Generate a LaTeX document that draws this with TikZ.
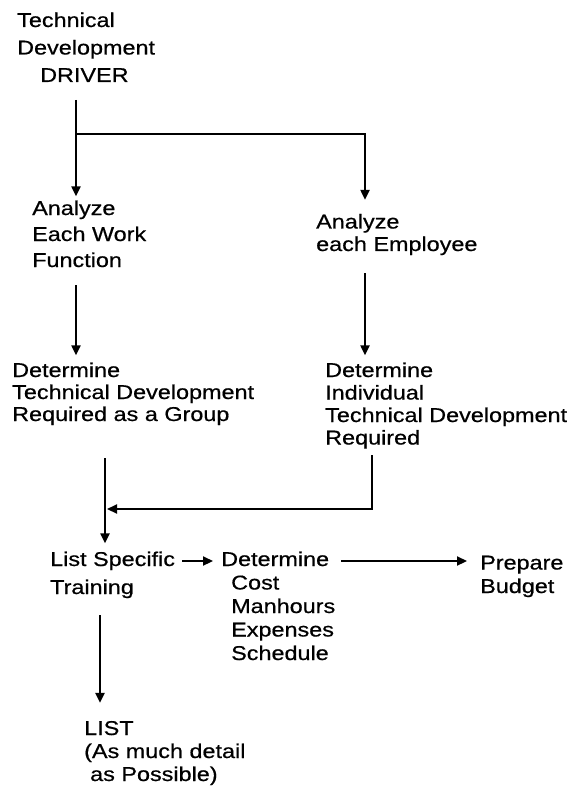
\documentclass[tikz,border=0pt]{standalone}
\usepackage{fontspec}
\setmainfont{Liberation Sans}[FakeStretch=1.17,FakeBold=0.6]
\usetikzlibrary{positioning,calc,arrows.meta}

\begin{document}
\begin{tikzpicture}
  [
    x=1pt, y=-1pt,
    >={Triangle[length=10pt,width=9pt]},
    box/.style  = {align=left, inner sep=0pt, anchor=base west,
                   font=\fontsize{20}{#1}\selectfont},
    box/.default = 23,
    flow/.style = {->, line width=2.2pt},
  ]
  \useasboundingbox (0,0) rectangle (571,786);

  % the driver and the two analyses (placed at the baseline of their last line)
  \node (driver)   at (17,82)     [box=27.5] {Technical\\Development\\\hspace*{23pt}DRIVER};
  \node (workfn)   at (32,267)    [box=26]   {Analyze\\Each Work\\Function};
  \node (employee) at (316,251)   [box=22.5] {Analyze\\each Employee};

  % what has to be developed
  \node (grpdev) at (12,421)    [box=22]   {Determine\\Technical Development\\Required as a Group};
  \node (inddev) at (325,444.5) [box=22.5] {Determine\\Individual\\Technical Development\\Required};

  % training, cost and budget
  \node (training) at (50,594)  [box=28]   {List Specific\\Training};
  \node (costs)    at (221,660) [box=23.5] {Determine\\\hspace*{10pt}Cost\\\hspace*{10pt}Manhours\\\hspace*{10pt}Expenses\\\hspace*{10pt}Schedule};
  \node (budget)   at (480,593) [box=23.5] {Prepare\\Budget};
  \node (detail)   at (84,781)  [box]      {LIST\\(As much detail\\\hspace*{6pt}as Possible)};

  % split below the driver
  \coordinate (top)    at (76,100);
  \coordinate (split)  at (76,134);
  \coordinate (corner) at (365,134);
  \draw[flow] (top) -- ($(top |- workfn.north)+(0,-4)$);
  \draw[flow] (split) -- (corner) -- ($(corner |- employee.north)+(0,-14)$);

  % analyses down to the requirements
  \coordinate (wf) at (76,285);
  \coordinate (em) at (365,273);
  \draw[flow] (wf) -- ($(wf |- grpdev.north)+(0,-7)$);
  \draw[flow] (em) -- ($(em |- inddev.north)+(0,-7)$);

  % both requirements join into the training list
  \coordinate (grp)   at (105,458);
  \coordinate (ind)   at (372,455);
  \coordinate (merge) at (105,509);
  \draw[flow] (grp) -- ($(grp |- training.north)+(0,-8)$);
  \draw[flow] (ind) |- ($(merge)+(2,0)$);

  % along the first line of the bottom row
  \coordinate (row) at (0,561);
  \draw[flow] ($(training.east |- row)+(7,0)$) -- ($(costs.west |- row)+(-8,0)$);
  \draw[flow] ($(costs.east |- row)+(6,0)$) -- ($(budget.west |- row)+(-13,0)$);
  \coordinate (tr) at (100,615);
  \draw[flow] (tr) -- ($(tr |- detail.north)+(0,-18)$);
\end{tikzpicture}
\end{document}
